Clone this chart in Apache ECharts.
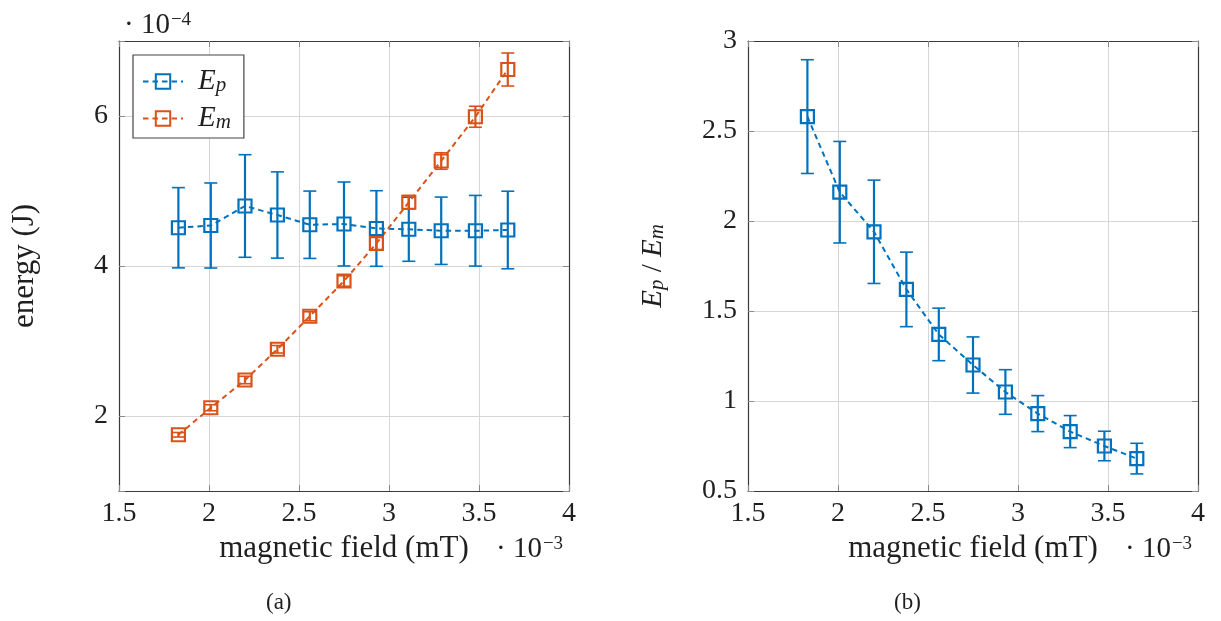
<!DOCTYPE html>
<html>
<head>
<meta charset="utf-8">
<title>Energy vs magnetic field</title>
<script src="https://cdn.jsdelivr.net/npm/echarts@6/dist/echarts.min.js"></script>
<style>
  html, body { margin: 0; padding: 0; background: #ffffff; }
  #chart { width: 1221px; height: 621px; }
</style>
</head>
<body>
<div id="chart"></div>
<script>
// Magnetic field of each measurement (units of 1e-3 mT)
const fieldX = [1.83, 2.01, 2.20, 2.38, 2.56, 2.75, 2.93, 3.11, 3.29, 3.48, 3.66];
// Energies (units of 1e-4 J) with their uncertainties
const epValues = [4.51, 4.54, 4.80, 4.68, 4.55, 4.56, 4.50, 4.49, 4.47, 4.47, 4.48];
const epErrors = [0.535, 0.567, 0.684, 0.575, 0.449, 0.560, 0.504, 0.427, 0.449, 0.471, 0.517];
const emValues = [1.75, 2.11, 2.48, 2.89, 3.33, 3.80, 4.30, 4.85, 5.40, 5.99, 6.62];
const emErrors = [0.03, 0.04, 0.05, 0.05, 0.06, 0.07, 0.08, 0.09, 0.11, 0.14, 0.22];
// Ratio Ep / Em with uncertainty
const ratioValues = [2.58, 2.16, 1.94, 1.62, 1.37, 1.20, 1.05, 0.93, 0.83, 0.75, 0.68];
const ratioErrors = [0.316, 0.282, 0.287, 0.207, 0.146, 0.156, 0.124, 0.100, 0.089, 0.082, 0.085];
// Tick label text
const fieldTicks = ['1.5', '2', '2.5', '3', '3.5', '4'];
const energyTicks = ['2', '4', '6'];
const ratioTicks = ['0.5', '1', '1.5', '2', '2.5', '3'];

const BLUE = '#0072BD';
const ORANGE = '#D95319';
const FONT = 'Liberation Serif';
const TEXT = '#1f1f1f';
const AXIS = '#3a3a3a';
const GRIDLINE = '#d6d6d6';
const TICK = '#8a8a8a';

const chart = echarts.init(document.getElementById('chart'), null, { renderer: 'canvas' });

function pairs(xs, ys) { return xs.map((x, i) => [x, ys[i]]); }
function ranges(xs, ys, es) { return xs.map((x, i) => [x, ys[i] - es[i], ys[i] + es[i]]); }

function errorBars(color) {
  return function (params, api) {
    const x = api.value(0);
    const top = api.coord([x, api.value(2)]);
    const bot = api.coord([x, api.value(1)]);
    const half = 6.5;
    return {
      type: 'group',
      children: [
        { type: 'line', shape: { x1: top[0], y1: top[1], x2: bot[0], y2: bot[1] },
          style: { stroke: color, lineWidth: 2.2 } },
        { type: 'line', shape: { x1: top[0] - half, y1: top[1], x2: top[0] + half, y2: top[1] },
          style: { stroke: color, lineWidth: 1.6 } },
        { type: 'line', shape: { x1: bot[0] - half, y1: bot[1], x2: bot[0] + half, y2: bot[1] },
          style: { stroke: color, lineWidth: 1.6 } }
      ]
    };
  };
}

function lineSeries(name, xi, yi, data, color) {
  return {
    name: name, type: 'line', xAxisIndex: xi, yAxisIndex: yi, data: data,
    symbol: 'rect', symbolSize: 13, showSymbol: true,
    itemStyle: { color: 'rgba(0,0,0,0)', borderColor: color, borderWidth: 2.2 },
    lineStyle: { color: color, width: 2, type: [5.5, 4] },
    emphasis: { disabled: true }, z: 3
  };
}

function errSeries(xi, yi, data, color) {
  return {
    type: 'custom', xAxisIndex: xi, yAxisIndex: yi, data: data,
    encode: { x: 0, y: [1, 2] }, renderItem: errorBars(color), z: 2, silent: true
  };
}

const labelStyle = { fontFamily: FONT, fontSize: 28, color: TEXT };
const nameStyle = { fontFamily: FONT, fontSize: 31, color: TEXT };

function fieldAxis(gi, pos, main) {
  return {
    type: 'value', gridIndex: gi, position: pos, min: 1.5, max: 4, interval: 0.5,
    axisLine: { show: true, onZero: false, lineStyle: { color: AXIS, width: 1.2 } },
    axisTick: { show: true, inside: true, length: 6, lineStyle: { color: TICK } },
    axisLabel: main ? Object.assign({ margin: 9, formatter: v => fieldTicks.find(t => Number(t) === v) || '' }, labelStyle) : { show: false },
    splitLine: { show: main, lineStyle: { color: GRIDLINE, width: 1 } },
    name: main ? 'magnetic field (mT)' : '', nameLocation: 'middle', nameGap: 42,
    nameTextStyle: nameStyle
  };
}

function valueAxis(gi, pos, main, range, ticks, extra) {
  return Object.assign({
    type: 'value', gridIndex: gi, position: pos, min: range[0], max: range[1],
    axisLine: { show: true, onZero: false, lineStyle: { color: AXIS, width: 1.2 } },
    axisTick: { show: true, inside: true, length: 6, lineStyle: { color: TICK } },
    axisLabel: main ? Object.assign({ margin: 11, formatter: v => ticks.find(t => Math.abs(Number(t) - v) < 1e-9) || '' }, labelStyle) : { show: false },
    splitLine: { show: main, lineStyle: { color: GRIDLINE, width: 1 } }
  }, extra || {});
}

const subRich = {
  e: { fontFamily: FONT, fontStyle: 'italic', fontSize: 29, lineHeight: 29, verticalAlign: 'top', color: TEXT },
  s: { fontFamily: FONT, fontStyle: 'italic', fontSize: 21, lineHeight: 21, padding: [14, 0, 0, 0], verticalAlign: 'bottom', color: TEXT },
  n: { fontFamily: FONT, fontSize: 29, lineHeight: 29, verticalAlign: 'top', color: TEXT },
  g: { width: 10, fontSize: 10 }
};

// exponent raised above the mantissa baseline
const supRich = {
  b: { fontFamily: FONT, fontSize: 29, lineHeight: 29, padding: [11, 0, 0, 0], verticalAlign: 'bottom', fill: TEXT },
  p: { fontFamily: FONT, fontSize: 19, lineHeight: 19, padding: [0, 0, 0, 1], verticalAlign: 'top', fill: TEXT }
};

const option = {
  animation: false,
  backgroundColor: '#ffffff',
  grid: [
    { left: 119, top: 41, width: 450, height: 450 },
    { left: 748, top: 41, width: 450, height: 450 }
  ],
  xAxis: [
    fieldAxis(0, 'bottom', true),
    fieldAxis(0, 'top', false),
    fieldAxis(1, 'bottom', true),
    fieldAxis(1, 'top', false)
  ],
  yAxis: [
    // range 1..7 split into 3 gives ticks at 2, 4, 6
    valueAxis(0, 'left', true, [1, 7], energyTicks, {
      splitNumber: 3, name: 'energy (J)', nameLocation: 'middle', nameGap: 79,
      nameRotate: 90, nameTextStyle: nameStyle
    }),
    valueAxis(0, 'right', false, [1, 7], energyTicks, { splitNumber: 3 }),
    valueAxis(1, 'left', true, [0.5, 3], ratioTicks, {
      interval: 0.5, name: '{e|E}{s|p}{n| / }{e|E}{s|m}', nameLocation: 'middle', nameGap: 80,
      nameRotate: 90, nameTextStyle: { rich: subRich }
    }),
    valueAxis(1, 'right', false, [0.5, 3], ratioTicks, { interval: 0.5 })
  ],
  legend: {
    data: ['Ep', 'Em'],
    orient: 'vertical', left: 133, top: 55,
    padding: [6, 13, 5, 9], itemGap: 2,
    itemWidth: 40, itemHeight: 18,
    backgroundColor: '#ffffff', borderColor: '#444444', borderWidth: 1.2, borderRadius: 0,
    selectedMode: false,
    formatter: name => name === 'Ep' ? '{g| }{e|E}{s|p}' : '{g| }{e|E}{s|m}',
    textStyle: { rich: subRich }
  },
  graphic: [
    { type: 'text', left: 124, top: 0, silent: true,
      style: { text: '{b|· 10}{p|−4}', rich: supRich } },
    { type: 'text', left: 496, top: 524, silent: true,
      style: { text: '{b|· 10}{p|−3}', rich: supRich } },
    { type: 'text', left: 1125, top: 524, silent: true,
      style: { text: '{b|· 10}{p|−3}', rich: supRich } },
    { type: 'text', left: 266, top: 591, silent: true,
      style: { text: '(a)', font: '23px "Liberation Serif"', fill: TEXT } },
    { type: 'text', left: 894, top: 591, silent: true,
      style: { text: '(b)', font: '23px "Liberation Serif"', fill: TEXT } }
  ],
  series: [
    errSeries(0, 0, ranges(fieldX, epValues, epErrors), BLUE),
    lineSeries('Ep', 0, 0, pairs(fieldX, epValues), BLUE),
    errSeries(0, 0, ranges(fieldX, emValues, emErrors), ORANGE),
    lineSeries('Em', 0, 0, pairs(fieldX, emValues), ORANGE),
    errSeries(2, 2, ranges(fieldX, ratioValues, ratioErrors), BLUE),
    lineSeries('ratio', 2, 2, pairs(fieldX, ratioValues), BLUE)
  ]
};

chart.setOption(option);
</script>
</body>
</html>
